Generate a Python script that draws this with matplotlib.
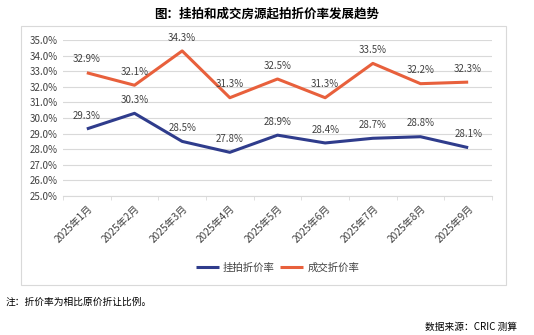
import matplotlib
matplotlib.use('Agg')
import matplotlib.pyplot as plt
from matplotlib.patches import Rectangle

plt.rcParams['font.family'] = ['Noto Sans CJK SC', 'DejaVu Sans']

months = ['2025年1月', '2025年2月', '2025年3月', '2025年4月', '2025年5月',
          '2025年6月', '2025年7月', '2025年8月', '2025年9月']
listing_rate = [29.3, 30.3, 28.5, 27.8, 28.9, 28.4, 28.7, 28.8, 28.1]
deal_rate = [32.9, 32.1, 34.3, 31.3, 32.5, 31.3, 33.5, 32.2, 32.3]

BLUE = '#2F3C8C'
ORANGE = '#E8603C'
TEXT = '#404040'

fig = plt.figure(figsize=(5.34, 3.35), dpi=100)
fig.patch.set_facecolor('white')

# 外框
fig.add_artist(Rectangle((21 / 534, 1 - 285 / 335), 485 / 534, 259 / 335,
                         transform=fig.transFigure, fill=False,
                         edgecolor='#D9D9D9', linewidth=0.8))

ax = fig.add_axes([63 / 534, 1 - 196 / 335, 429 / 534, 156 / 335])
x = list(range(len(months)))
ax.plot(x, listing_rate, color=BLUE, linewidth=2.2, label='挂拍折价率', solid_capstyle='butt')
ax.plot(x, deal_rate, color=ORANGE, linewidth=2.2, label='成交折价率', solid_capstyle='butt')

for series in (listing_rate, deal_rate):
    for xi, v in zip(x, series):
        ax.annotate(f'{v:.1f}%', (xi, v), xytext=(0, 6), textcoords='offset points',
                    ha='center', va='bottom', fontsize=7, color=TEXT)

ax.set_xlim(-0.5, len(months) - 0.5)
ax.set_ylim(25, 35)
ax.set_yticks([25 + i for i in range(11)])
ax.set_yticklabels([f'{25 + i:.1f}%' for i in range(11)], fontsize=7, color=TEXT)
ax.set_xticks(x)
ax.set_xticklabels(months, rotation=45, ha='right', rotation_mode='anchor', fontsize=7.3, color=TEXT)
ax.set_xticks([i - 0.5 for i in range(len(months) + 1)], minor=True)
ax.tick_params(axis='x', which='major', length=0, pad=5)
ax.tick_params(axis='x', which='minor', length=3, color='#D9D9D9')
ax.tick_params(axis='y', length=0, pad=4)
ax.grid(axis='y', color='#D9D9D9', linewidth=0.8)
ax.set_axisbelow(True)
for s in ['top', 'right', 'left']:
    ax.spines[s].set_visible(False)
ax.spines['bottom'].set_color('#D9D9D9')

ax.legend(loc='center', bbox_to_anchor=(0.5, -0.46), ncol=2, frameon=False,
          fontsize=7.5, handlelength=2.2, columnspacing=0.5, handletextpad=0.4,
          labelcolor=TEXT)

fig.text(0.5, 1 - 14 / 335, '图：挂拍和成交房源起拍折价率发展趋势', ha='center', va='center',
         fontsize=9, fontweight='bold', color='black')
fig.text(6 / 534, 1 - 302 / 335, '注：折价率为相比原价折让比例。', ha='left', va='center',
         fontsize=7, color='black')
fig.text(517 / 534, 1 - 327 / 335, '数据来源：CRIC 测算', ha='right', va='center',
         fontsize=7, color='black')

plt.savefig('out.png', dpi=100, facecolor='white')
plt.close()
